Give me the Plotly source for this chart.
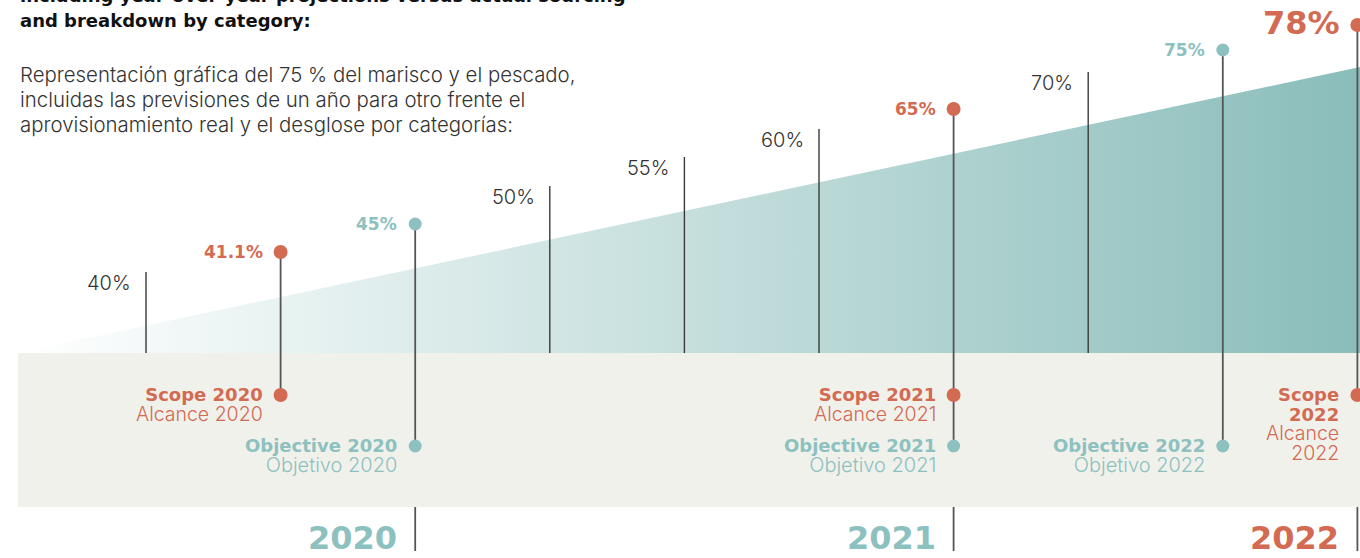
import plotly.graph_objects as go

# ---------------- data ----------------
milestones = ["40%", "41.1%", "45%", "50%", "55%", "60%", "65%", "70%", "75%", "78%"]
kinds = ["target", "scope", "objective", "target", "target", "target",
         "scope", "target", "objective", "scope"]
stem_top = [81, 101, 129, 167, 196, 224, 244, 281, 303, 328]   # height above band
years = ["2020", "2021", "2022"]
scope_at = [1, 6, 9]          # milestone index of each year's scope
objective_at = [2, 6, 8]      # milestone index of each year's objective
year_marker_at = [2, 6, 9]
year_kind = ["objective", "objective", "scope"]
ramp_top = [0, 286]

title_lines = ["including year-over-year projections versus actual sourcing",
               "and breakdown by category:"]
para_lines = ["Representación gráfica del 75 % del marisco y el pescado,",
              "incluidas las previsiones de un año para otro frente el",
              "aprovisionamiento real y el desglose por categorías:"]
scope_en = [["Scope 2020"], ["Scope 2021"], ["Scope", "2022"]]
scope_es = [["Alcance 2020"], ["Alcance 2021"], ["Alcance", "2022"]]
obj_en = [["Objective 2020"], ["Objective 2021"], ["Objective 2022"]]
obj_es = [["Objetivo 2020"], ["Objetivo 2021"], ["Objetivo 2022"]]

# ---------------- style ----------------
W, H = 1360, 558
PX0, STEP = 146, 134.6          # pixel of first milestone, spacing
BASE = 353                      # pixel of band top
ORANGE = "#d36a52"
TEAL = "#8dc1bf"
DARK = "#555555"
BAND = "#f1f1ec"
BOLD = "DejaVu Sans"
LIGHT = "Inter"
SCOPE_Y, OBJ_Y = -42, -93
BAND_BOTTOM = -154
YEAR_LINE_END = -198
LINE_GAP = 19.5

x_min = -PX0 / STEP
x_max = (W - PX0) / STEP
x_left = (18 - PX0) / STEP
y_min = BASE - H
y_max = BASE

fig = go.Figure()

# gradient ramp
fig.add_trace(go.Scatter(
    x=[x_left, x_max], y=ramp_top, mode="lines", line=dict(width=0),
    fill="tozeroy",
    fillgradient=dict(type="horizontal",
                      colorscale=[[0, "rgba(141,192,189,0)"], [1, "rgb(138,189,186)"]]),
    hoverinfo="skip", showlegend=False))

# stems
tx, ty, sx, sy = [], [], [], []
for i, k in enumerate(kinds):
    if k == "target":
        tx += [i, i, None]; ty += [0, stem_top[i], None]
    else:
        low = OBJ_Y if i in objective_at else SCOPE_Y
        sx += [i, i, None]; sy += [stem_top[i], low, None]
for i in year_marker_at:
    sx += [i, i, None]; sy += [BAND_BOTTOM, YEAR_LINE_END, None]
fig.add_trace(go.Scatter(x=tx, y=ty, mode="lines",
                         line=dict(color="#3a3a3a", width=1.4),
                         hoverinfo="skip", showlegend=False))
fig.add_trace(go.Scatter(x=sx, y=sy, mode="lines",
                         line=dict(color=DARK, width=1.8),
                         hoverinfo="skip", showlegend=False))

# top dots
for kind, col, size in [("scope", ORANGE, 14), ("objective", TEAL, 13)]:
    idx = [i for i, k in enumerate(kinds) if k == kind]
    fig.add_trace(go.Scatter(x=idx, y=[stem_top[i] for i in idx], mode="markers",
                             marker=dict(color=col, size=size, line=dict(width=0)),
                             hoverinfo="skip", showlegend=False))
# band dots
fig.add_trace(go.Scatter(x=scope_at, y=[SCOPE_Y] * 3, mode="markers",
                         marker=dict(color=ORANGE, size=14, line=dict(width=0)),
                         hoverinfo="skip", showlegend=False))
fig.add_trace(go.Scatter(x=objective_at, y=[OBJ_Y] * 3, mode="markers",
                         marker=dict(color=TEAL, size=13, line=dict(width=0)),
                         hoverinfo="skip", showlegend=False))

ann = []


def txt(x, y, s, size, color, family, weight=400, xanchor="right", yanchor="middle",
        xshift=0, yshift=0, xref="x", yref="y", align="right"):
    ann.append(dict(x=x, y=y, xref=xref, yref=yref, text=s, showarrow=False,
                    xanchor=xanchor, yanchor=yanchor, xshift=xshift, yshift=yshift,
                    align=align,
                    font=dict(family=family, size=size, color=color, weight=weight)))


def span(s, family, weight, size):
    return (f'<span style="font-family:{family};font-weight:{weight};'
            f'font-size:{size}px">{s}</span>')


# milestone labels
for i, (m, k) in enumerate(zip(milestones, kinds)):
    if k == "target":
        txt(i, stem_top[i], m, 20, "#333333", LIGHT, 300, yanchor="top", xshift=-13, yshift=3)
    elif i == len(milestones) - 1:
        txt(i, stem_top[i], m, 32, ORANGE, BOLD, 700, xshift=-15, yshift=2)
    else:
        txt(i, stem_top[i], m, 17, ORANGE if k == "scope" else TEAL, BOLD, 700, xshift=-16)


# band labels: bold English line(s) + light Spanish line(s) in one block
def band_label(x, y, en, es, color, es_size):
    lines = [span(s, BOLD, 700, 18) for s in en] + [span(s, LIGHT, 300, es_size) for s in es]
    n = len(lines)
    txt(x, y, "<br>".join(lines), LINE_GAP / 1.3, color, LIGHT, 300,
        xshift=-16, yshift=-(n - 1) * LINE_GAP / 2)


for j in range(3):
    band_label(scope_at[j], SCOPE_Y, scope_en[j], scope_es[j], ORANGE, 19.5)
    band_label(objective_at[j], OBJ_Y, obj_en[j], obj_es[j], TEAL, 20)

# year labels
for j, i in enumerate(year_marker_at):
    txt(i, YEAR_LINE_END + 11, years[j], 32,
        TEAL if year_kind[j] == "objective" else ORANGE, BOLD, 700, xshift=-16, yshift=2)

# title + paragraph (paper coords)
for n, line in enumerate(title_lines):
    txt(18 / W, 1 - (-4 + 24 * n) / H, line, 18, "#111111", BOLD, 700,
        xanchor="left", xref="paper", yref="paper", align="left")
for n, line in enumerate(para_lines):
    txt(18 / W, 1 - (74 + 25.5 * n) / H, line, 20.4, "#333333", LIGHT, 300,
        xanchor="left", xref="paper", yref="paper", align="left")

fig.update_layout(
    width=W, height=H, margin=dict(l=0, r=0, t=0, b=0),
    paper_bgcolor="white", plot_bgcolor="white",
    xaxis=dict(range=[x_min, x_max], visible=False, fixedrange=True),
    yaxis=dict(range=[y_min, y_max], visible=False, fixedrange=True),
    annotations=ann, showlegend=False,
    shapes=[dict(type="rect", xref="x", yref="y", x0=x_left, x1=x_max + 1,
                 y0=BAND_BOTTOM, y1=0, fillcolor=BAND, line=dict(width=0),
                 layer="below")],
)

fig.write_html("out.html", config={"displayModeBar": False},
               post_script="document.body.style.margin='0';document.body.style.overflow='hidden';")
